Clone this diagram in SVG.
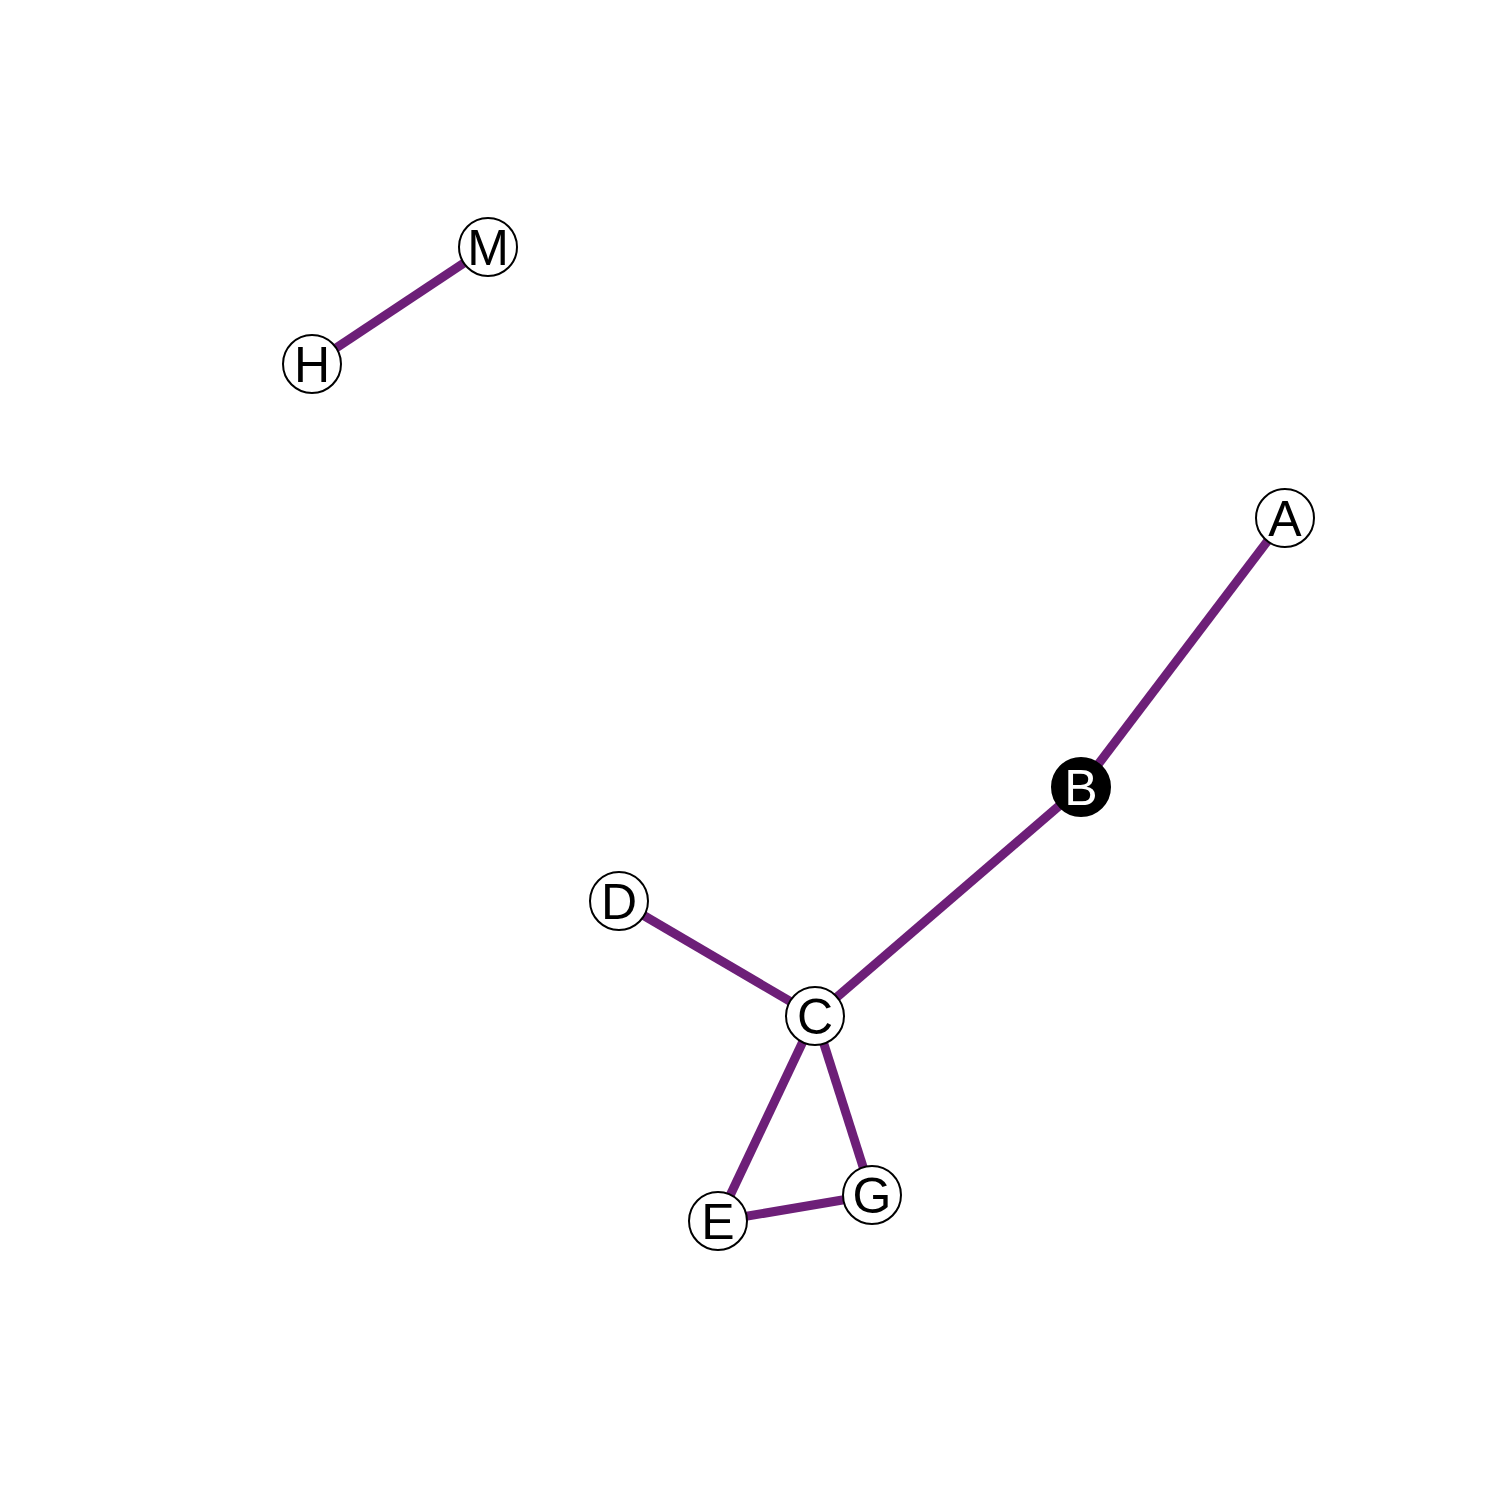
<svg xmlns="http://www.w3.org/2000/svg" width="1512" height="1512" viewBox="0 0 1512 1512">
<style>
.e{stroke:#6d1f78;stroke-width:9;fill:none}
.n{fill:#fff;stroke:#000;stroke-width:2}
.t{font-family:"Liberation Sans",Arial,sans-serif;font-size:50px;text-anchor:middle;fill:#000}
</style>
<rect width="1512" height="1512" fill="#fff"/>
<g id="edges">
<line class="e" x1="488" y1="247" x2="312" y2="364"/>
<line class="e" x1="1285" y1="518" x2="1081" y2="787"/>
<line class="e" x1="1081" y1="787" x2="815" y2="1016"/>
<line class="e" x1="619" y1="901" x2="815" y2="1016"/>
<line class="e" x1="815" y1="1016" x2="718" y2="1221"/>
<line class="e" x1="815" y1="1016" x2="872" y2="1195"/>
<line class="e" x1="718" y1="1221" x2="872" y2="1195"/>
</g>
<g id="M"><circle class="n" cx="488" cy="247" r="29"/><text class="t" x="488" y="265">M</text></g>
<g id="H"><circle class="n" cx="312" cy="364" r="29"/><text class="t" x="312" y="382">H</text></g>
<g id="A"><circle class="n" cx="1285" cy="518" r="29"/><text class="t" x="1285" y="536">A</text></g>
<g id="B"><circle cx="1081" cy="787" r="29" fill="#000" stroke="#000" stroke-width="2"/><text class="t" x="1081" y="805" style="fill:#fff">B</text></g>
<g id="D"><circle class="n" cx="619" cy="901" r="29"/><text class="t" x="619" y="919">D</text></g>
<g id="C"><circle class="n" cx="815" cy="1016" r="29"/><text class="t" x="815" y="1034">C</text></g>
<g id="E"><circle class="n" cx="718" cy="1221" r="29"/><text class="t" x="718" y="1239">E</text></g>
<g id="G"><circle class="n" cx="872" cy="1195" r="29"/><text class="t" x="872" y="1213">G</text></g>
</svg>
